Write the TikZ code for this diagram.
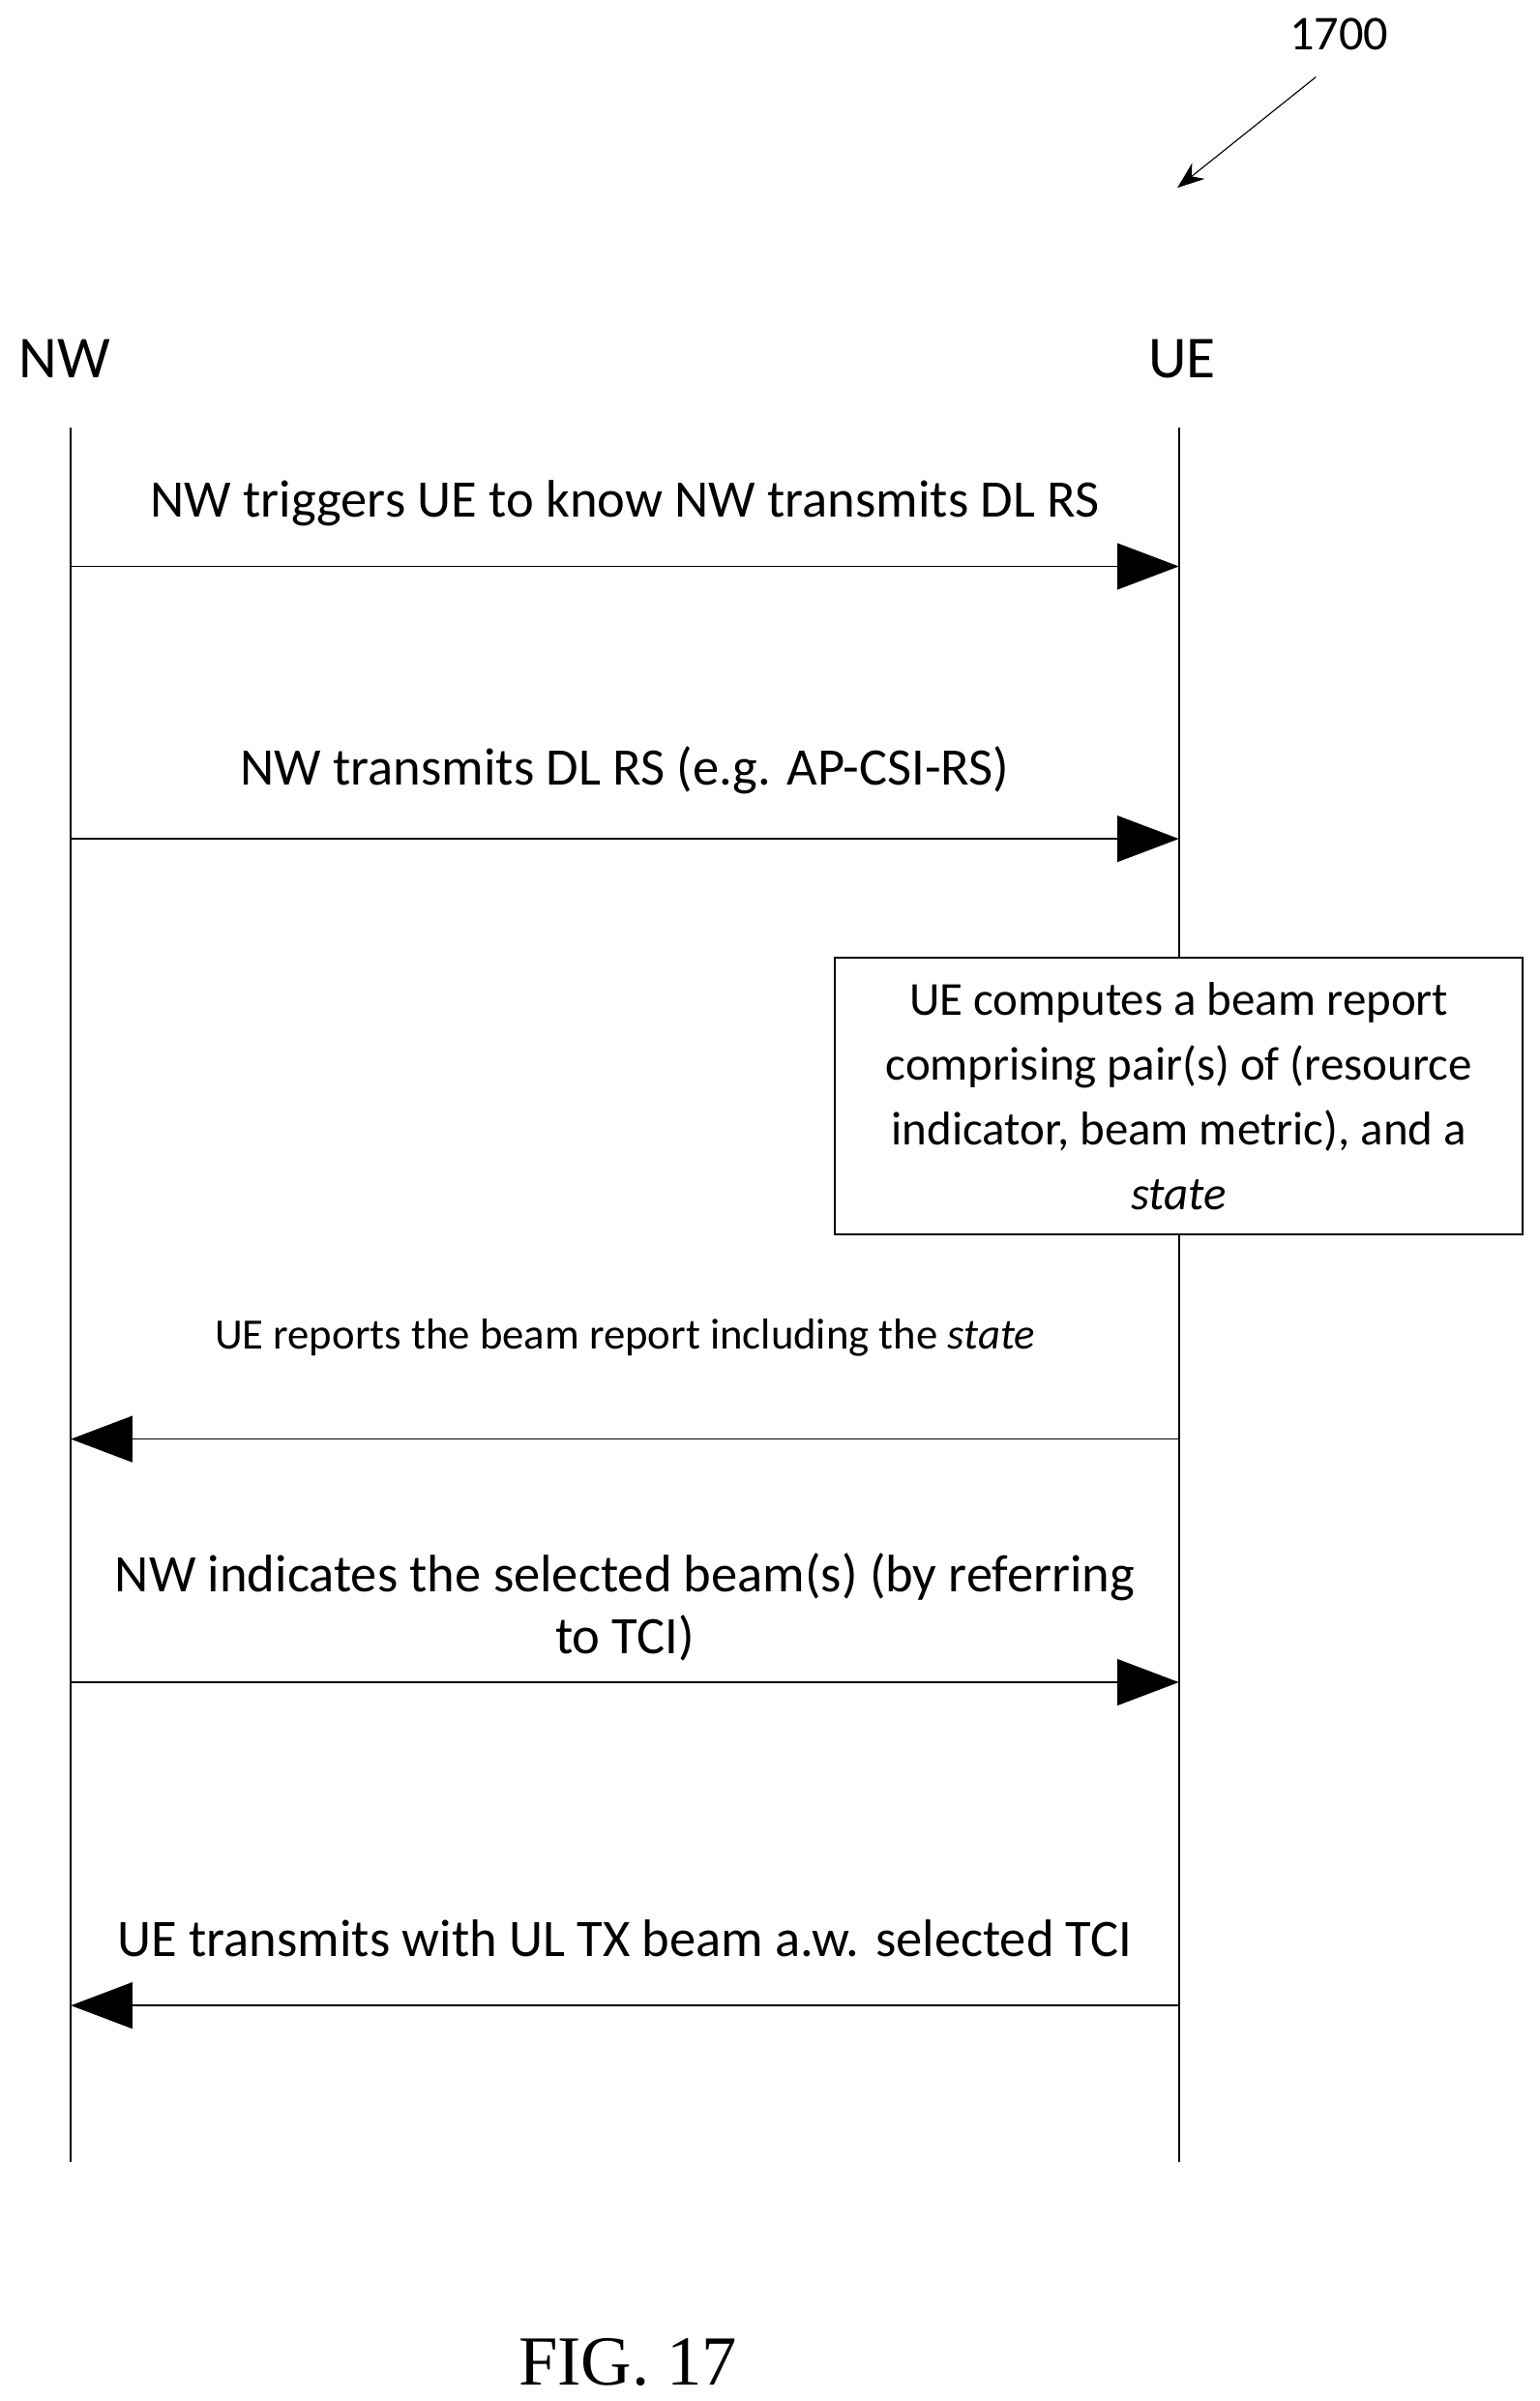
\documentclass[tikz,border=0pt]{standalone}
\usepackage{fontspec}
\setmainfont{Carlito}
\usetikzlibrary{positioning,arrows.meta}

\begin{document}
\begin{tikzpicture}[x=0.02cm,y=-0.02cm,
% Entity and message style
		entity/.style={font=\fontsize{22}{26}\selectfont},
		msg/.style={font=\fontsize{19.5}{24}\selectfont, align=center},
		lifeline/.style={semithick},
		call/.style={semithick, -{Triangle[length=0.8cm,width=0.6cm]}},
		note/.style={rectangle
							    , draw=black, semithick
							    , minimum width=8.94cm
							    , minimum height=3.6cm
							    , align=center
							    , font=\fontsize{17.5}{24}\selectfont}
	]
		\useasboundingbox (0,0) rectangle (1000,1560);
%% Entities and lifelines
		\node [entity] (nw) at (42,233) {NW};
		\node [entity] (ue) at (768,233) {UE};
		\coordinate (nwtop) at (46,278);
		\coordinate (nwbot) at (46,1405);
		\coordinate (uetop) at (766,278);
		\coordinate (uebot) at (766,1405);
		\draw [lifeline] (nwtop) -- (nwbot);
		\draw [lifeline] (uetop) -- (uebot);
%% Messages
		\coordinate (a1) at (46,368);   \coordinate (b1) at (766,368);
		\coordinate (a2) at (46,545);   \coordinate (b2) at (766,545);
		\coordinate (a3) at (46,935);   \coordinate (b3) at (766,935);
		\coordinate (a4) at (46,1093);  \coordinate (b4) at (766,1093);
		\coordinate (a5) at (46,1303);  \coordinate (b5) at (766,1303);
		\draw [call] (a1) -- node [msg, above=0.4cm] (m1) {NW triggers UE to know NW transmits DL RS} (b1);
		\draw [call] (a2) -- node [msg, above=0.45cm] (m2) {NW transmits DL RS (e.g. AP-CSI-RS)} (b2);
		\node [note, fill=white] (box) at (766,712) {UE computes a beam report\\ comprising pair(s) of (resource\\ indicator, beam metric), and a\\ \textit{state}};
		\draw [call] (b3) -- node [msg, above=0.95cm, font=\fontsize{16}{19}\selectfont] (m3) {UE reports the beam report including the \textit{state}} (a3);
		\draw [call] (a4) -- node [msg, above=0.15cm, font=\fontsize{19.5}{23}\selectfont] (m4) {NW indicates the selected beam(s) (by referring\\ to TCI)} (b4);
		\draw [call] (b5) -- node [msg, above=0.5cm] (m5) {UE transmits with UL TX beam a.w. selected TCI} (a5);
%% Figure label
		\node [font=\fontsize{26}{30}\selectfont\rmfamily] (fig) at (408,1535) {\setmainfont{Liberation Serif}FIG. 17};
		\node [font=\fontsize{18}{22}\selectfont] (ref) at (870,22) {1700};
		\coordinate (reftip) at (765,122);
		\draw [thin, -{Stealth[length=0.35cm]}] (855,50) -- (reftip);
\end{tikzpicture}
\end{document}
